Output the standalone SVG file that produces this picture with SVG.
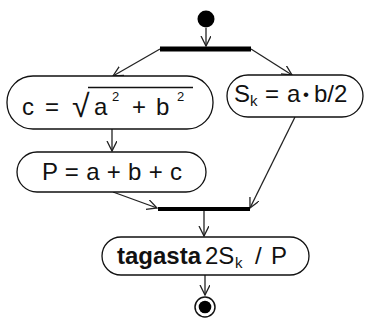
<svg xmlns="http://www.w3.org/2000/svg" width="366" height="325" viewBox="0 0 366 325">
<style>
.node{fill:#fff;stroke:#111;stroke-width:1.3}
.edge{fill:none;stroke:#222;stroke-width:1.3;marker-end:url(#arr)}
.t{font-family:"Liberation Sans",Arial,sans-serif;font-size:24px;fill:#111}
.sub{font-size:15px}
.sup{font-size:13px}
.b{font-weight:bold}
</style>
<defs>
<marker id="arr" markerUnits="userSpaceOnUse" markerWidth="12" markerHeight="12" refX="10" refY="5" orient="auto" viewBox="0 0 12 12">
<path d="M0,0 L10,5 L0,10" fill="none" stroke="#222" stroke-width="1.3"/>
</marker>
</defs>
<rect width="366" height="325" fill="#fff"/>
<g id="connectors">
<line class="edge" x1="206" y1="28" x2="206" y2="46"/>
<line class="edge" x1="160" y1="49" x2="113" y2="76"/>
<line class="edge" x1="251" y1="49" x2="292" y2="75"/>
<line class="edge" x1="112" y1="129" x2="112" y2="151"/>
<line class="edge" x1="113" y1="192" x2="157" y2="208"/>
<line class="edge" x1="295" y1="117" x2="250" y2="208"/>
<line class="edge" x1="204" y1="211" x2="204" y2="236"/>
<line class="edge" x1="205" y1="275" x2="205" y2="295"/>
</g>
<g id="start"><circle cx="206" cy="19" r="8.5" fill="#000"/></g>
<g id="fork"><rect x="160" y="46.5" width="91" height="5" fill="#000"/></g>
<g id="node-c">
<rect class="node" x="7" y="76" width="206" height="53" rx="26" ry="26"/>
<text class="t" y="115"><tspan x="22">c</tspan><tspan x="45">=</tspan></text>
<text class="t" x="72" y="117" style="font-size:32px">√</text>
<line x1="88" y1="87.5" x2="193" y2="87.5" stroke="#111" stroke-width="1.3"/>
<text class="t" y="115"><tspan x="94">a</tspan><tspan class="sup" x="112" y="101">2</tspan><tspan x="132" y="115">+</tspan><tspan x="156">b</tspan><tspan class="sup" x="177" y="101">2</tspan></text>
</g>
<g id="node-s">
<rect class="node" x="227" y="75" width="136" height="42" rx="21" ry="21"/>
<text class="t" y="102"><tspan x="234">S</tspan><tspan class="sub" x="250" y="106">k</tspan><tspan x="265" y="102">=</tspan><tspan x="287">a</tspan><tspan x="303" style="font-size:17px" y="100">•</tspan><tspan x="314" y="102">b/2</tspan></text>
</g>
<g id="node-p">
<rect class="node" x="17" y="152" width="189" height="40" rx="20" ry="20"/>
<text class="t" x="42" y="180" textLength="140" lengthAdjust="spacing">P = a + b + c</text>
</g>
<g id="join"><rect x="158" y="207" width="92" height="4" fill="#000"/></g>
<g id="node-out">
<rect class="node" x="102" y="237" width="207" height="38" rx="19" ry="19"/>
<text class="t" y="264"><tspan class="b" x="117">tagasta</tspan><tspan x="205">2S</tspan><tspan class="sub" x="235" y="268">k</tspan><tspan x="255" y="264">/</tspan><tspan x="271">P</tspan></text>
</g>
<g id="end">
<circle cx="205" cy="307" r="10" fill="none" stroke="#111" stroke-width="1.5"/>
<circle cx="205" cy="307" r="6.3" fill="#000"/>
</g>
</svg>
